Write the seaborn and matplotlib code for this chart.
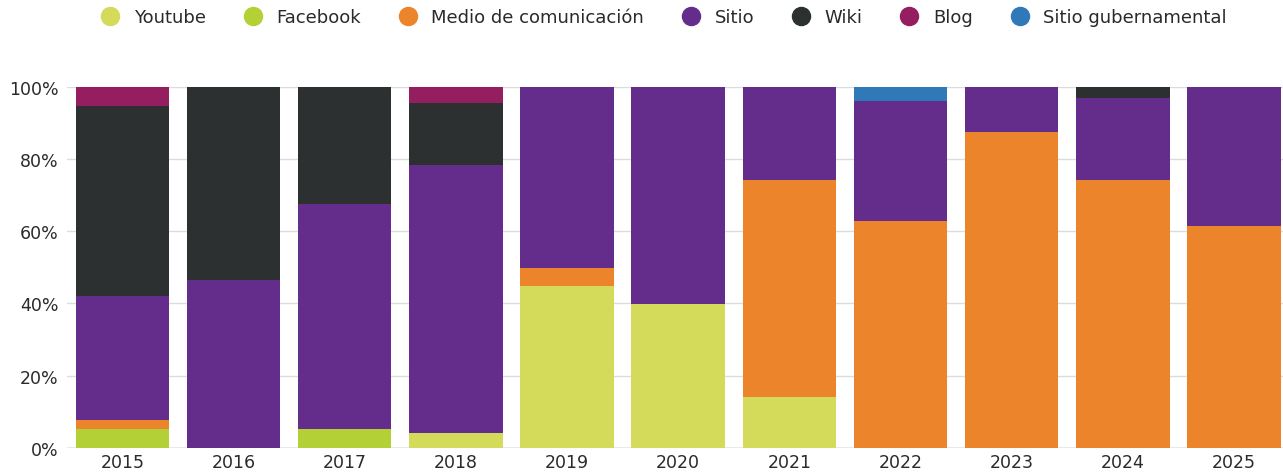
import numpy as np
import pandas as pd
import matplotlib
matplotlib.use("Agg")
import matplotlib.pyplot as plt
from matplotlib.lines import Line2D
import seaborn as sns

# ---------- data (share of sources per year, %) ----------
years = ["2015", "2016", "2017", "2018", "2019", "2020",
         "2021", "2022", "2023", "2024", "2025"]

youtube  = [0.0, 0.0, 0.0, 4.1, 44.8, 39.8, 14.0, 0.0, 0.0, 0.0, 0.0]
facebook = [5.2, 0.0, 5.2, 0.0, 0.0, 0.0, 0.0, 0.0, 0.0, 0.0, 0.0]
medio    = [2.6, 0.0, 0.0, 0.0, 5.0, 0.0, 60.1, 62.8, 87.5, 74.1, 61.5]
sitio    = [34.2, 46.6, 62.3, 74.3, 50.2, 60.2, 25.9, 33.2, 12.5, 22.7, 38.5]
wiki     = [52.6, 53.4, 32.5, 17.2, 0.0, 0.0, 0.0, 0.0, 0.0, 3.2, 0.0]
blog     = [5.4, 0.0, 0.0, 4.4, 0.0, 0.0, 0.0, 0.0, 0.0, 0.0, 0.0]
gob      = [0.0, 0.0, 0.0, 0.0, 0.0, 0.0, 0.0, 4.0, 0.0, 0.0, 0.0]

labels = ["Youtube", "Facebook", "Medio de comunicación", "Sitio",
          "Wiki", "Blog", "Sitio gubernamental"]
colors = ["#d4da5a", "#b3d136", "#ec842c", "#652d8b",
          "#2c3031", "#941e5f", "#2f79b9"]

df = pd.DataFrame(
    dict(zip(labels, [youtube, facebook, medio, sitio, wiki, blog, gob])),
    index=years,
)
cum = df.cumsum(axis=1)

# ---------- plot ----------
sns.set_theme(style="white")
plt.rcParams["font.family"] = ["DejaVu Sans"]

fig = plt.figure(figsize=(12.83, 4.77), dpi=100)
ax = fig.add_axes([0.052, 0.059, 0.948, 0.757])

# stacked bars: draw cumulative totals from the top layer down
for lab, col in zip(labels[::-1], colors[::-1]):
    sns.barplot(x=cum.index, y=cum[lab].values, color=col, saturation=1,
                width=0.84, linewidth=0, ax=ax, zorder=2)

ax.set_ylim(0, 100)
ax.set_xlim(-0.5, 10.44)
ax.set_yticks([0, 20, 40, 60, 80, 100])
ax.set_yticklabels([f"{v}%" for v in [0, 20, 40, 60, 80, 100]],
                   fontsize=12.5, color="#2a2a2a")
ax.tick_params(axis="x", labelsize=12.5, colors="#2a2a2a", length=0, pad=4)
ax.tick_params(axis="y", length=0, pad=6)
ax.set_xlabel("")
ax.set_ylabel("")
ax.yaxis.grid(True, color="#dcdcdc", linewidth=1, zorder=0)
ax.set_axisbelow(True)
for s in ax.spines.values():
    s.set_visible(False)
ax.axhline(0, color="#b0b0b0", linewidth=1, zorder=1)

handles = [Line2D([0], [0], marker="o", linestyle="", markersize=13,
                  markerfacecolor=c, markeredgecolor=c) for c in colors]
fig.legend(handles, labels, loc="center", bbox_to_anchor=(0.514, 0.962),
           ncol=7, frameon=False, fontsize=13, handletextpad=0.3,
           columnspacing=1.6, labelcolor="#2a2a2a")

fig.savefig("out.png", dpi=100)
